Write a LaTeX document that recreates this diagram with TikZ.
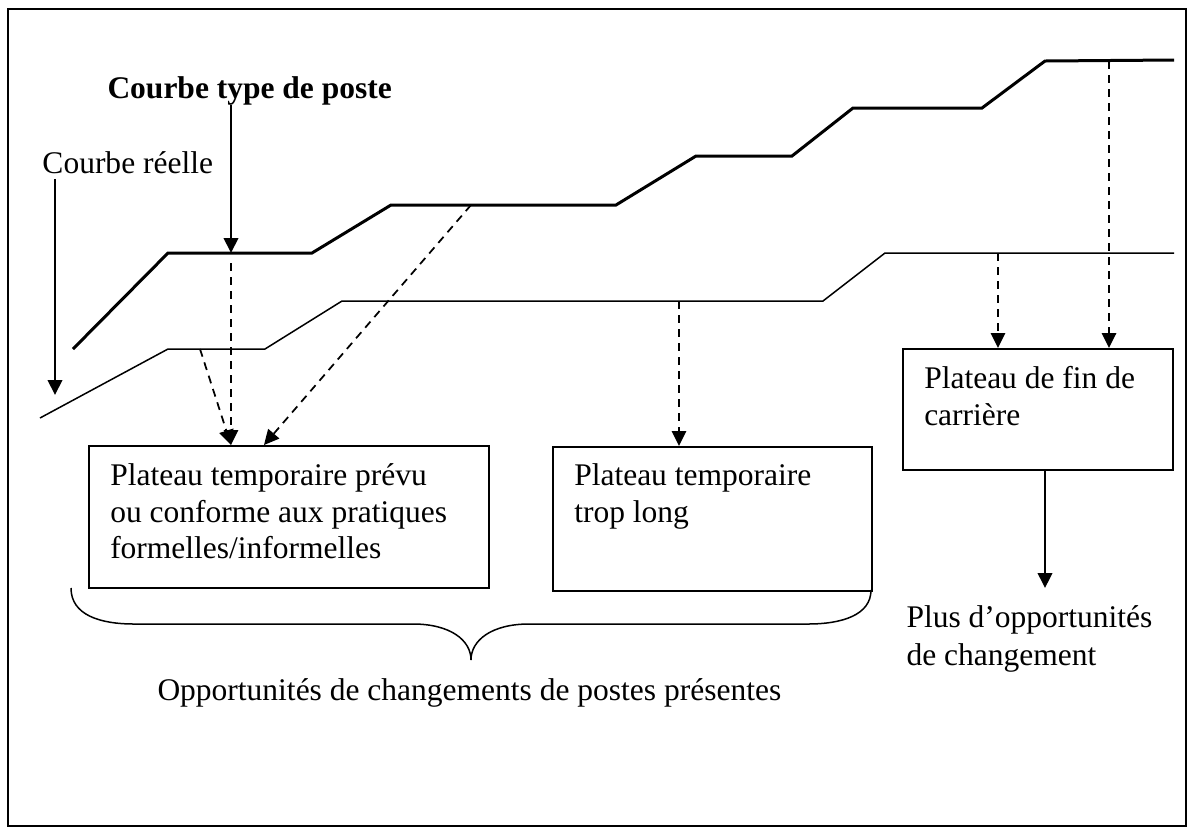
\documentclass[tikz,border=0pt]{standalone}
\usepackage{fontspec}
\setmainfont{Liberation Serif}
\usetikzlibrary{arrows.meta}

\tikzset{
  lbl/.style={inner sep=0pt, font=\fontsize{12.6}{14.6}\selectfont},
  plat/.style={draw, line width=0.6pt, inner ysep=0pt, inner xsep=8.6pt,
    align=flush left, anchor=north west, font=\fontsize{12.6}{14.6}\selectfont},
  typcurve/.style={line width=1.2pt},
  reelcurve/.style={line width=0.6pt},
  pointer/.style={line width=0.8pt, -{Triangle[length=6pt,width=5.8pt]}},
  dashpointer/.style={pointer, line width=0.7pt, dash pattern=on 3.2pt off 2.4pt},
}

\begin{document}
\begin{tikzpicture}[x=0.4pt,y=-0.4pt]
      \useasboundingbox (0,0) rectangle (1194,835);
      \draw[line width=0.7pt] (8,9) rectangle (1186,826);
      % the two curves
      \draw[typcurve] (73,349) -- (168,253) -- (312,253) -- (391,205) -- (616,205)
        -- (696,156) -- (792,156) -- (853,108) -- (982,108) -- (1045,61) -- (1174,60);
      \draw[reelcurve] (40,418) -- (168,349) -- (265,349) -- (342,301) -- (823,301)
        -- (885,253) -- (1174,253);
      \coordinate (t1) at (231,253);
      \coordinate (t2) at (471,205);
      \coordinate (t3) at (1109,61);
      \coordinate (r0) at (55,395);
      \coordinate (r1) at (200,349);
      \coordinate (r2) at (679,301);
      \coordinate (r3) at (998,253);
      \coordinate (p0) at (1045,588);
      % labels
      \node[lbl, anchor=base west, font={\fontsize{12.6}{14.6}\selectfont\bfseries}] (typ) at (107,98) {Courbe type de poste};
      \node[lbl, anchor=base west] (reel) at (42,173) {Courbe réelle};
      \node[plat, text width=142.8pt, text height=16pt, text depth=40.8pt] (b1) at (88,445)
        {Plateau temporaire prévu\\ ou conforme aux pratiques\\ formelles/informelles};
      \node[plat, text width=110.4pt, text height=15.6pt, text depth=42pt] (b2) at (552,446)
        {Plateau temporaire\\ trop long};
      \node[plat, text width=90.8pt, text height=16pt, text depth=32.4pt] (b3) at (902,348)
        {Plateau de fin de\\ carrière};
      \node[lbl, anchor=base west, text width=110pt, align=flush left, font=\fontsize{12.6}{15.2}\selectfont] (plus) at (906,627)
        {Plus d’opportunités\\ de changement};
      \node[lbl, anchor=base west] (opp) at (157,700) {Opportunités de changements de postes présentes};
      % arrows
      \draw[pointer] (typ.south -| t1) -- (t1);
      \draw[pointer] ([yshift=-2pt]reel.south -| r0) -- (r0);
      \draw[dashpointer] ([yshift=-4pt]t1) -- (b1.north -| t1);
      \draw[dashpointer] (r1) -- ([xshift=57.2pt]b1.north west);
      \draw[dashpointer] (t2) -- ([xshift=70.4pt]b1.north west);
      \draw[dashpointer] (r2) -- (b2.north -| r2);
      \draw[dashpointer] (r3) -- (b3.north -| r3);
      \draw[dashpointer] (t3) -- (b3.north -| t3);
      \draw[pointer] (b3.south -| p0) -- (p0);
      % brace
      \draw[line width=0.6pt] (71,588) .. controls (71,615) and (100,624) .. (134,624) -- (413,624)
        .. controls (450,624) and (471,640) .. (471,660)
        .. controls (471,640) and (492,624) .. (529,624) -- (808,624)
        .. controls (842,624) and (871,615) .. (871,590);
\end{tikzpicture}
\end{document}
